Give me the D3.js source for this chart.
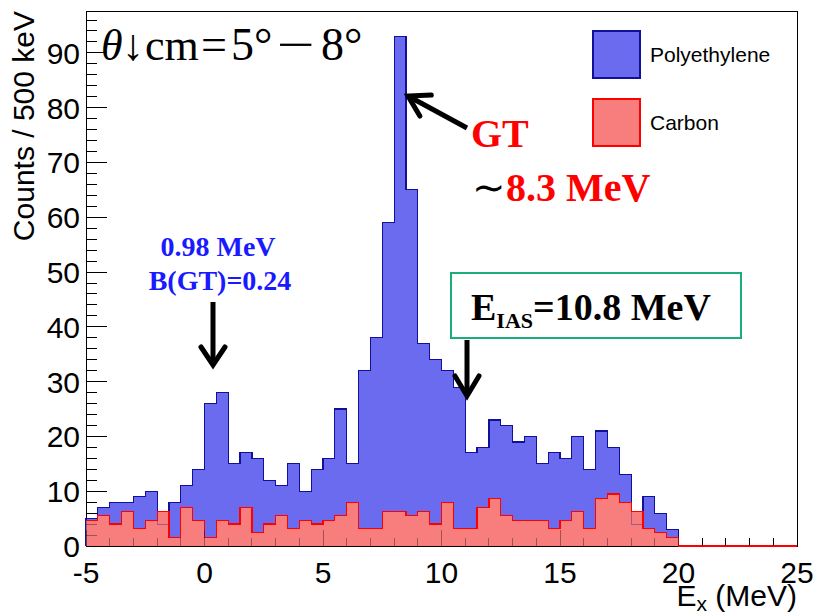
<!DOCTYPE html>
<html>
<head>
<meta charset="utf-8">
<script src="https://cdn.jsdelivr.net/npm/d3@7"></script>
<style>
  html, body { margin: 0; padding: 0; background: #fff; }
  svg { display: block; }
</style>
</head>
<body>
<svg id="chart" width="817" height="614"></svg>
<script>
// ---------------- data ----------------
const binLow = -5;
const binWidth = 0.5;
// counts per 500 keV bin, starting at Ex = -5 MeV (bins beyond 20 MeV are empty)
const polyethylene = [
  5, 7, 8, 8, 9, 10, 4, 8, 11, 14,
  26, 28, 15, 17, 16, 12, 11, 15, 10, 14,
  16, 25, 15, 32, 38, 59, 93, 65, 37, 34,
  32, 29, 17, 18, 23, 22, 19, 20, 15, 17,
  16, 20, 14, 21, 18, 13, 4, 9, 6, 3,
  0, 0, 0, 0, 0, 0, 0, 0, 0, 0
];
const carbon = [
  4.7, 5.5, 4.0, 6.3, 3.2, 4.7, 6.3, 1.6, 7.1, 4.7,
  1.6, 4.7, 4.0, 7.1, 2.4, 4.0, 5.5, 3.2, 4.7, 4.0,
  4.7, 5.5, 7.9, 3.2, 3.2, 6.3, 6.3, 5.5, 6.3, 4.0,
  7.9, 3.2, 3.2, 7.1, 8.7, 5.5, 4.7, 4.7, 4.7, 3.2,
  4.7, 6.3, 3.2, 8.7, 9.5, 7.9, 6.3, 3.2, 2.4, 1.6,
  0, 0, 0, 0, 0, 0, 0, 0, 0, 0
];
const xDomain = [-5, 25];
const yMax = 97.65;
const xMajorTicks = [-5, 0, 5, 10, 15, 20, 25];
const yMajorTicks = [0, 10, 20, 30, 40, 50, 60, 70, 80, 90];
const legendLabels = ["Polyethylene", "Carbon"];

// ---------------- layout ----------------
const svg = d3.select("#chart");
const L = 86, R = 797, T = 11, B = 546;
const x = d3.scaleLinear().domain(xDomain).range([L, R]);
const y = d3.scaleLinear().domain([0, yMax]).range([B, T]);

const blueFill = "#6b6bef", blueLine = "#10109a";
const redFill = "#f87d7d", redLine = "#ff0000";

const xMinor = d3.range(xDomain[0], xDomain[1] + 0.001, 1);
const yMinor = d3.range(0, yMax, 2);
function drawTicks(g, opacity) {
  g.selectAll(".xt").data(xMinor).enter().append("line")
    .attr("x1", d => x(d)).attr("x2", d => x(d))
    .attr("y1", B).attr("y2", d => B - (xMajorTicks.includes(d) ? 16 : 8))
    .attr("stroke", "#000").attr("stroke-opacity", opacity);
  g.selectAll(".yt").data(yMinor).enter().append("line")
    .attr("y1", d => y(d)).attr("y2", d => y(d))
    .attr("x1", L).attr("x2", d => L + (d % 10 === 0 ? 21 : 11))
    .attr("stroke", "#000").attr("stroke-opacity", opacity);
}

// ---------------- frame & axes (drawn first, like ROOT) ----------------
const axisG = svg.append("g").attr("shape-rendering", "crispEdges");
axisG.append("rect").attr("x", L).attr("y", T).attr("width", R - L).attr("height", B - T)
  .attr("fill", "none").attr("stroke", "#000").attr("stroke-width", 1);
drawTicks(axisG, 1);

// tick labels
const lab = svg.append("g").attr("font-family", "'Liberation Sans', Arial, sans-serif").attr("font-size", 30);
lab.selectAll(".xl").data(xMajorTicks).enter().append("text")
  .attr("x", d => x(d)).attr("y", 583).attr("text-anchor", "middle").text(d => d);
lab.selectAll(".yl").data(yMajorTicks).enter().append("text")
  .attr("x", 80).attr("y", d => y(d) + 11).attr("text-anchor", "end").text(d => d);

// axis titles
const xt = lab.append("text").attr("x", R).attr("y", 606).attr("text-anchor", "end");
xt.append("tspan").text("E");
xt.append("tspan").attr("font-size", 21).attr("dy", 5).text("x");
xt.append("tspan").attr("dy", -5).text(" (MeV)");
lab.append("text").attr("transform", `translate(34,${T}) rotate(-90)`)
  .attr("text-anchor", "end").attr("font-size", 30).text("Counts / 500 keV");

// ---------------- histograms ----------------
function stepPoints(vals) {
  const pts = [[binLow, 0]];
  vals.forEach((v, i) => {
    const a = binLow + i * binWidth;
    pts.push([a, v], [a + binWidth, v]);
  });
  pts.push([binLow + vals.length * binWidth, 0]);
  return pts;
}
const area = d3.area().x(d => x(d[0])).y0(y(0)).y1(d => y(d[1]));
const line = d3.line().x(d => x(d[0])).y(d => y(d[1]));
const hg = svg.append("g").attr("shape-rendering", "crispEdges");
const pPts = stepPoints(polyethylene);
const cPts = stepPoints(carbon);
hg.append("path").attr("d", area(pPts)).attr("fill", blueFill);
hg.append("path").attr("d", line(pPts)).attr("fill", "none").attr("stroke", blueLine).attr("stroke-width", 1.2);
hg.append("path").attr("d", area(cPts)).attr("fill", redFill);
hg.append("path").attr("d", line(pPts)).attr("fill", "none").attr("stroke", blueLine).attr("stroke-width", 1).attr("stroke-opacity", 0.35);
hg.append("path").attr("d", line(cPts.slice(1))).attr("fill", "none").attr("stroke", redLine).attr("stroke-width", 1.2);
// ticks faintly visible through the pattern fills
drawTicks(svg.append("g").attr("shape-rendering", "crispEdges"), 0.35);

// ---------------- legend ----------------
const leg = svg.append("g").attr("font-family", "'Liberation Sans', Arial, sans-serif").attr("font-size", 21);
const legFill = [blueFill, redFill];
const legStroke = [blueLine, redLine];
legendLabels.forEach((t, i) => {
  const yy = 31 + i * 68;
  leg.append("rect").attr("x", 593).attr("y", yy).attr("width", 47).attr("height", 47)
    .attr("fill", legFill[i]).attr("stroke", legStroke[i]).attr("stroke-width", 1.2)
    .attr("shape-rendering", "crispEdges");
  leg.append("text").attr("x", 650).attr("y", yy + 31).text(t);
});

// ---------------- annotations ----------------
const serif = "'Liberation Serif', 'Times New Roman', serif";
const thG = svg.append("g").attr("font-family", serif).attr("font-size", 44);
thG.append("text").attr("x", 101).attr("y", 60).attr("font-style", "italic").text("θ");
thG.append("text").attr("x", 122).attr("y", 60).text("↓");
thG.append("text").attr("x", 145).attr("y", 60).text("cm");
thG.append("text").attr("x", 201).attr("y", 60).attr("font-size", 46).text("=");
thG.append("text").attr("x", 231).attr("y", 60).attr("font-size", 46).text("5°");
thG.append("text").attr("x", 277).attr("y", 60).attr("font-size", 46).attr("textLength", 38)
  .attr("lengthAdjust", "spacingAndGlyphs").text("−");
thG.append("text").attr("x", 321).attr("y", 60).attr("font-size", 46).text("8°");

function arrow(x1, y1, x2, y2, head, halfW) {
  const ang = Math.atan2(y2 - y1, x2 - x1);
  const bx = x2 - head * Math.cos(ang), by = y2 - head * Math.sin(ang);
  const px = -Math.sin(ang) * halfW, py = Math.cos(ang) * halfW;
  svg.append("path").attr("d", `M${x1},${y1}L${x2},${y2}`)
    .attr("stroke", "#000").attr("stroke-width", 5).attr("fill", "none");
  svg.append("path").attr("d", `M${bx + px},${by + py}L${x2},${y2}L${bx - px},${by - py}`)
    .attr("stroke", "#000").attr("stroke-width", 5).attr("fill", "none")
    .attr("stroke-linejoin", "miter").attr("stroke-linecap", "round");
}
// GT
svg.append("text").attr("font-family", serif).attr("font-weight", "bold").attr("font-size", 40)
  .attr("fill", "#ff0000").attr("x", 471).attr("y", 147).text("GT");
const gt2 = svg.append("text").attr("font-family", serif).attr("font-size", 40).attr("y", 201);
gt2.append("tspan").attr("x", 472).attr("fill", "#000").text("∼");
gt2.append("tspan").attr("x", 506).attr("fill", "#ff0000").attr("font-weight", "bold").text("8.3 MeV");
arrow(467, 128, 408, 96, 20, 12);

// 0.98 MeV
const bl = svg.append("g").attr("font-family", serif).attr("font-weight", "bold")
  .attr("font-size", 28).attr("fill", "#1a1aff").attr("text-anchor", "middle");
bl.append("text").attr("x", 218).attr("y", 256).text("0.98 MeV");
bl.append("text").attr("x", 220).attr("y", 290).text("B(GT)=0.24");
arrow(213, 302, 213, 365, 18, 12);

// IAS
svg.append("rect").attr("x", 451).attr("y", 273).attr("width", 290).attr("height", 65)
  .attr("fill", "#fff").attr("stroke", "#1aae78").attr("stroke-width", 2);
const ias = svg.append("text").attr("font-family", serif).attr("font-weight", "bold")
  .attr("font-size", 38).attr("x", 471).attr("y", 320);
ias.append("tspan").text("E");
ias.append("tspan").attr("font-size", 22).attr("dy", 8).text("IAS");
ias.append("tspan").attr("dy", -8).text("=10.8 MeV");
arrow(467, 340, 467, 396, 20, 12);
</script>
</body>
</html>
